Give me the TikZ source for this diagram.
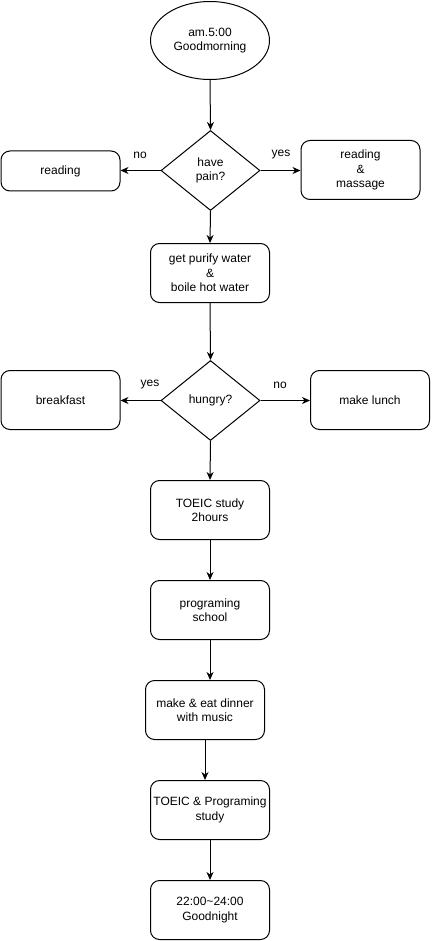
\documentclass[tikz,border=0pt]{standalone}
\usepackage{fontspec}
\setmainfont{Liberation Sans}
\usetikzlibrary{shapes.geometric,arrows.meta}
\begin{document}
\begin{tikzpicture}[x=1pt,y=-1pt,line width=1pt,
  base/.style={draw, font=\fontsize{12}{14.5}\selectfont, align=center, inner sep=0pt},
  box/.style={base, rectangle, rounded corners=9pt, minimum width=119pt, minimum height=59pt},
  startnode/.style={base, ellipse, minimum width=119pt, minimum height=78pt},
  decision/.style={base, diamond, aspect=1.24, minimum width=99pt, minimum height=80pt},
  arr/.style={-{Stealth[length=8pt,width=7pt,inset=2.5pt]}},
  lbl/.style={font=\fontsize{12}{14}\selectfont, inner sep=0pt}]
\useasboundingbox (0,0) rectangle (431,941);

\node[startnode] (start) at (210,40.5) {am.5:00\\Goodmorning};
\node[decision] (pain) at (210.5,170.5) {have\\pain?};
\node[box, minimum height=40pt] (read) at (60.5,171) {reading};
\node[box] (massage) at (360.5,170) {reading\\\&\\massage};
\node[box] (water) at (210,273) {get purify water\\\&\\boile hot water};
\node[decision] (hungry) at (210.5,400.5) {hungry?};
\node[box] (breakfast) at (60.5,400) {breakfast};
\node[box] (lunch) at (370,400) {make lunch};
\node[box] (toeic) at (210,510) {TOEIC study\\2hours};
\node[box] (school) at (210,610) {programing\\school};
\node[box] (dinner) at (205,710) {make \& eat dinner\\with music};
\node[box] (study) at (210,810) {TOEIC \& Programing\\study};
\node[box] (night) at (210,910) {22:00\textasciitilde24:00\\Goodnight};

\node[lbl] (lno1) at (140,155) {no};
\node[lbl] (lyes1) at (281,155) {yes};
\node[lbl] (lyes2) at (150,385) {yes};
\node[lbl] (lno2) at (280,385) {no};

\draw[arr] (start.south) -- (pain.north);
\draw[arr] (pain.west) -- (pain.west -| read.east);
\draw[arr] (pain.east) -- (pain.east -| massage.west);
\draw[arr] (pain.south) -- (water.north);
\draw[arr] (water.south) -- (hungry.north);
\draw[arr] (hungry.west) -- (hungry.west -| breakfast.east);
\draw[arr] (hungry.east) -- (hungry.east -| lunch.west);
\draw[arr] (hungry.south) -- (toeic.north);
\draw[arr] (toeic.south) -- (school.north);
\draw[arr] (school.south) -- (school.south |- dinner.north);
\draw[arr] (dinner.south) -- (dinner.south |- study.north);
\draw[arr] (study.south) -- (night.north);
\end{tikzpicture}
\end{document}
